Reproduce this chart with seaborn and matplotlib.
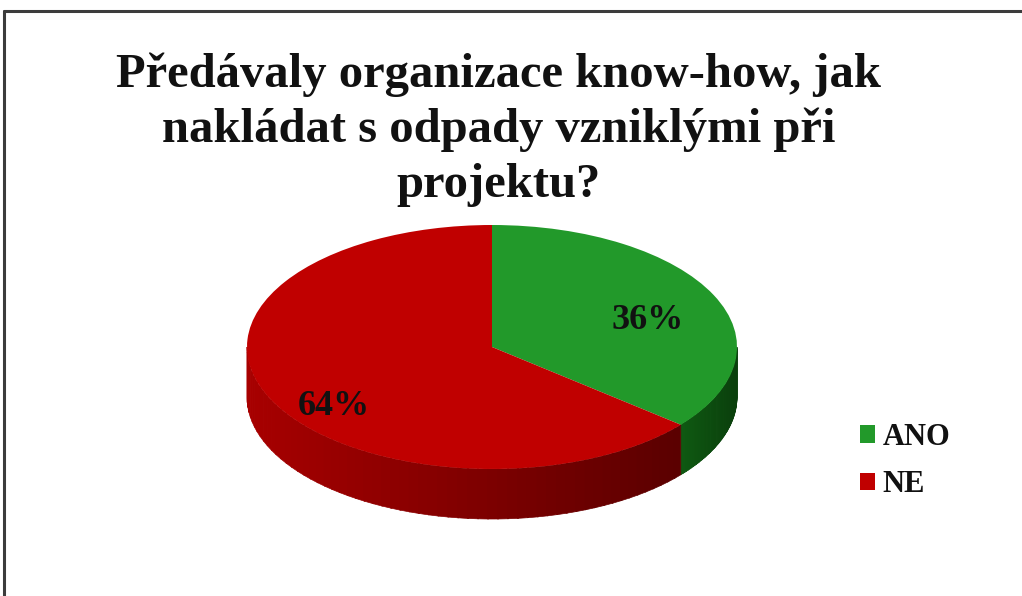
import numpy as np
import matplotlib
matplotlib.use("Agg")
import matplotlib.pyplot as plt
from matplotlib.patches import Polygon, Patch
from matplotlib.lines import Line2D
import seaborn as sns

# ---- data ----
categories = ["ANO", "NE"]
values = [36, 64]
title = "Předávaly organizace know-how, jak\nnakládat s odpady vzniklými při\nprojektu?"

# ---- style ----
top_colors = ["#22992a", "#c00000"]
side_dark = [("#0f5a12", "#0a3f0c"), ("#a80000", "#5a0000")]

sns.set_theme(style="white")
plt.rcParams["font.family"] = ["Liberation Serif", "DejaVu Serif"]

W, H = 1022, 596
fig = plt.figure(figsize=(W / 100, H / 100), dpi=100)
ax = fig.add_axes([0, 0, 1, 1])

# geometry in pixel terms -> data limits
cx, cy = 492, 249          # centre (pixels from bottom-left)
rx, ry = 245, 122          # ellipse radii in pixels
depth = 50 / ry            # side thickness in data units

startangle = 90
fracs = np.array(values, dtype=float) / sum(values)
bounds = [startangle]
for f in fracs:
    bounds.append(bounds[-1] - 360 * f)

# side (visible lower half) drawn first
for i in range(len(values)):
    a_hi, a_lo = bounds[i], bounds[i + 1]
    lo, hi = a_lo % 360, a_hi % 360
    if hi <= lo:
        hi += 360
    seg_lo = max(lo, 180)
    seg_hi = min(hi, 360)
    if seg_hi <= seg_lo:
        seg_lo = max(lo, 540)
        seg_hi = min(hi, 720)
        if seg_hi <= seg_lo:
            continue
    c0 = np.array(matplotlib.colors.to_rgb(side_dark[i][0]))
    c1 = np.array(matplotlib.colors.to_rgb(side_dark[i][1]))
    n = 60
    edges = np.linspace(seg_lo, seg_hi, n + 1)
    x_lo, x_hi = np.cos(np.radians(seg_lo)), np.cos(np.radians(seg_hi))
    for k in range(n):
        t = np.radians(np.linspace(edges[k], min(edges[k + 1] + 0.3, seg_hi), 6))
        xs = np.cos(t)
        ys = np.sin(t)
        pts = np.concatenate([np.c_[xs, ys], np.c_[xs[::-1], ys[::-1] - depth]])
        xm = np.cos(np.radians((edges[k] + edges[k + 1]) / 2))
        s = np.clip((xm - x_lo) / max(1e-6, (x_hi - x_lo)), 0, 1)
        col = c0 * (1 - s) + c1 * s
        ax.add_patch(Polygon(pts, closed=True, facecolor=col, edgecolor=col, lw=0.5, zorder=1))

# top surface via pie
wedges, texts, autotexts = ax.pie(
    values, colors=top_colors, startangle=startangle, counterclock=False,
    radius=1, center=(0, 0), autopct=lambda p: f"{p:.0f}%", pctdistance=0.68,
    wedgeprops=dict(linewidth=0),
    textprops=dict(fontsize=26, fontweight="bold", color="#111111"),
)
for w in wedges:
    w.set_zorder(2)
label_shift = [(0.02, -0.07), (-0.03, -0.2)]
for t, (dx, dy) in zip(autotexts, label_shift):
    x, y = t.get_position()
    t.set_position((x + dx, y + dy))
    t.set_zorder(3)

ax.set_aspect("auto")
ax.set_xlim((0 - cx) / rx, (W - cx) / rx)
ax.set_ylim((0 - cy) / ry, (H - cy) / ry)
ax.axis("off")

# title
fig.text(0.488, 0.912, title, ha="center", va="top", fontsize=35,
         fontweight="bold", color="#111111", linespacing=1.32)

# legend
handles = [Patch(facecolor=c, edgecolor="none") for c in top_colors]
leg = fig.legend(handles, categories, loc="center left",
                 bbox_to_anchor=(832 / W, 1 - 461 / H), frameon=False,
                 handlelength=0.5, handleheight=0.5, handletextpad=0.25,
                 labelspacing=0.6, prop=dict(size=22, weight="bold"))
for txt in leg.get_texts():
    txt.set_color("#111111")

# frame lines (top and left)
fig.add_artist(Line2D([4 / W, 1], [1 - 11 / H, 1 - 11 / H], color="#3c3c3c", lw=2.2))
fig.add_artist(Line2D([4 / W, 4 / W], [0, 1 - 11 / H], color="#3c3c3c", lw=2.2))

fig.savefig("out.png", dpi=100, facecolor="white")
